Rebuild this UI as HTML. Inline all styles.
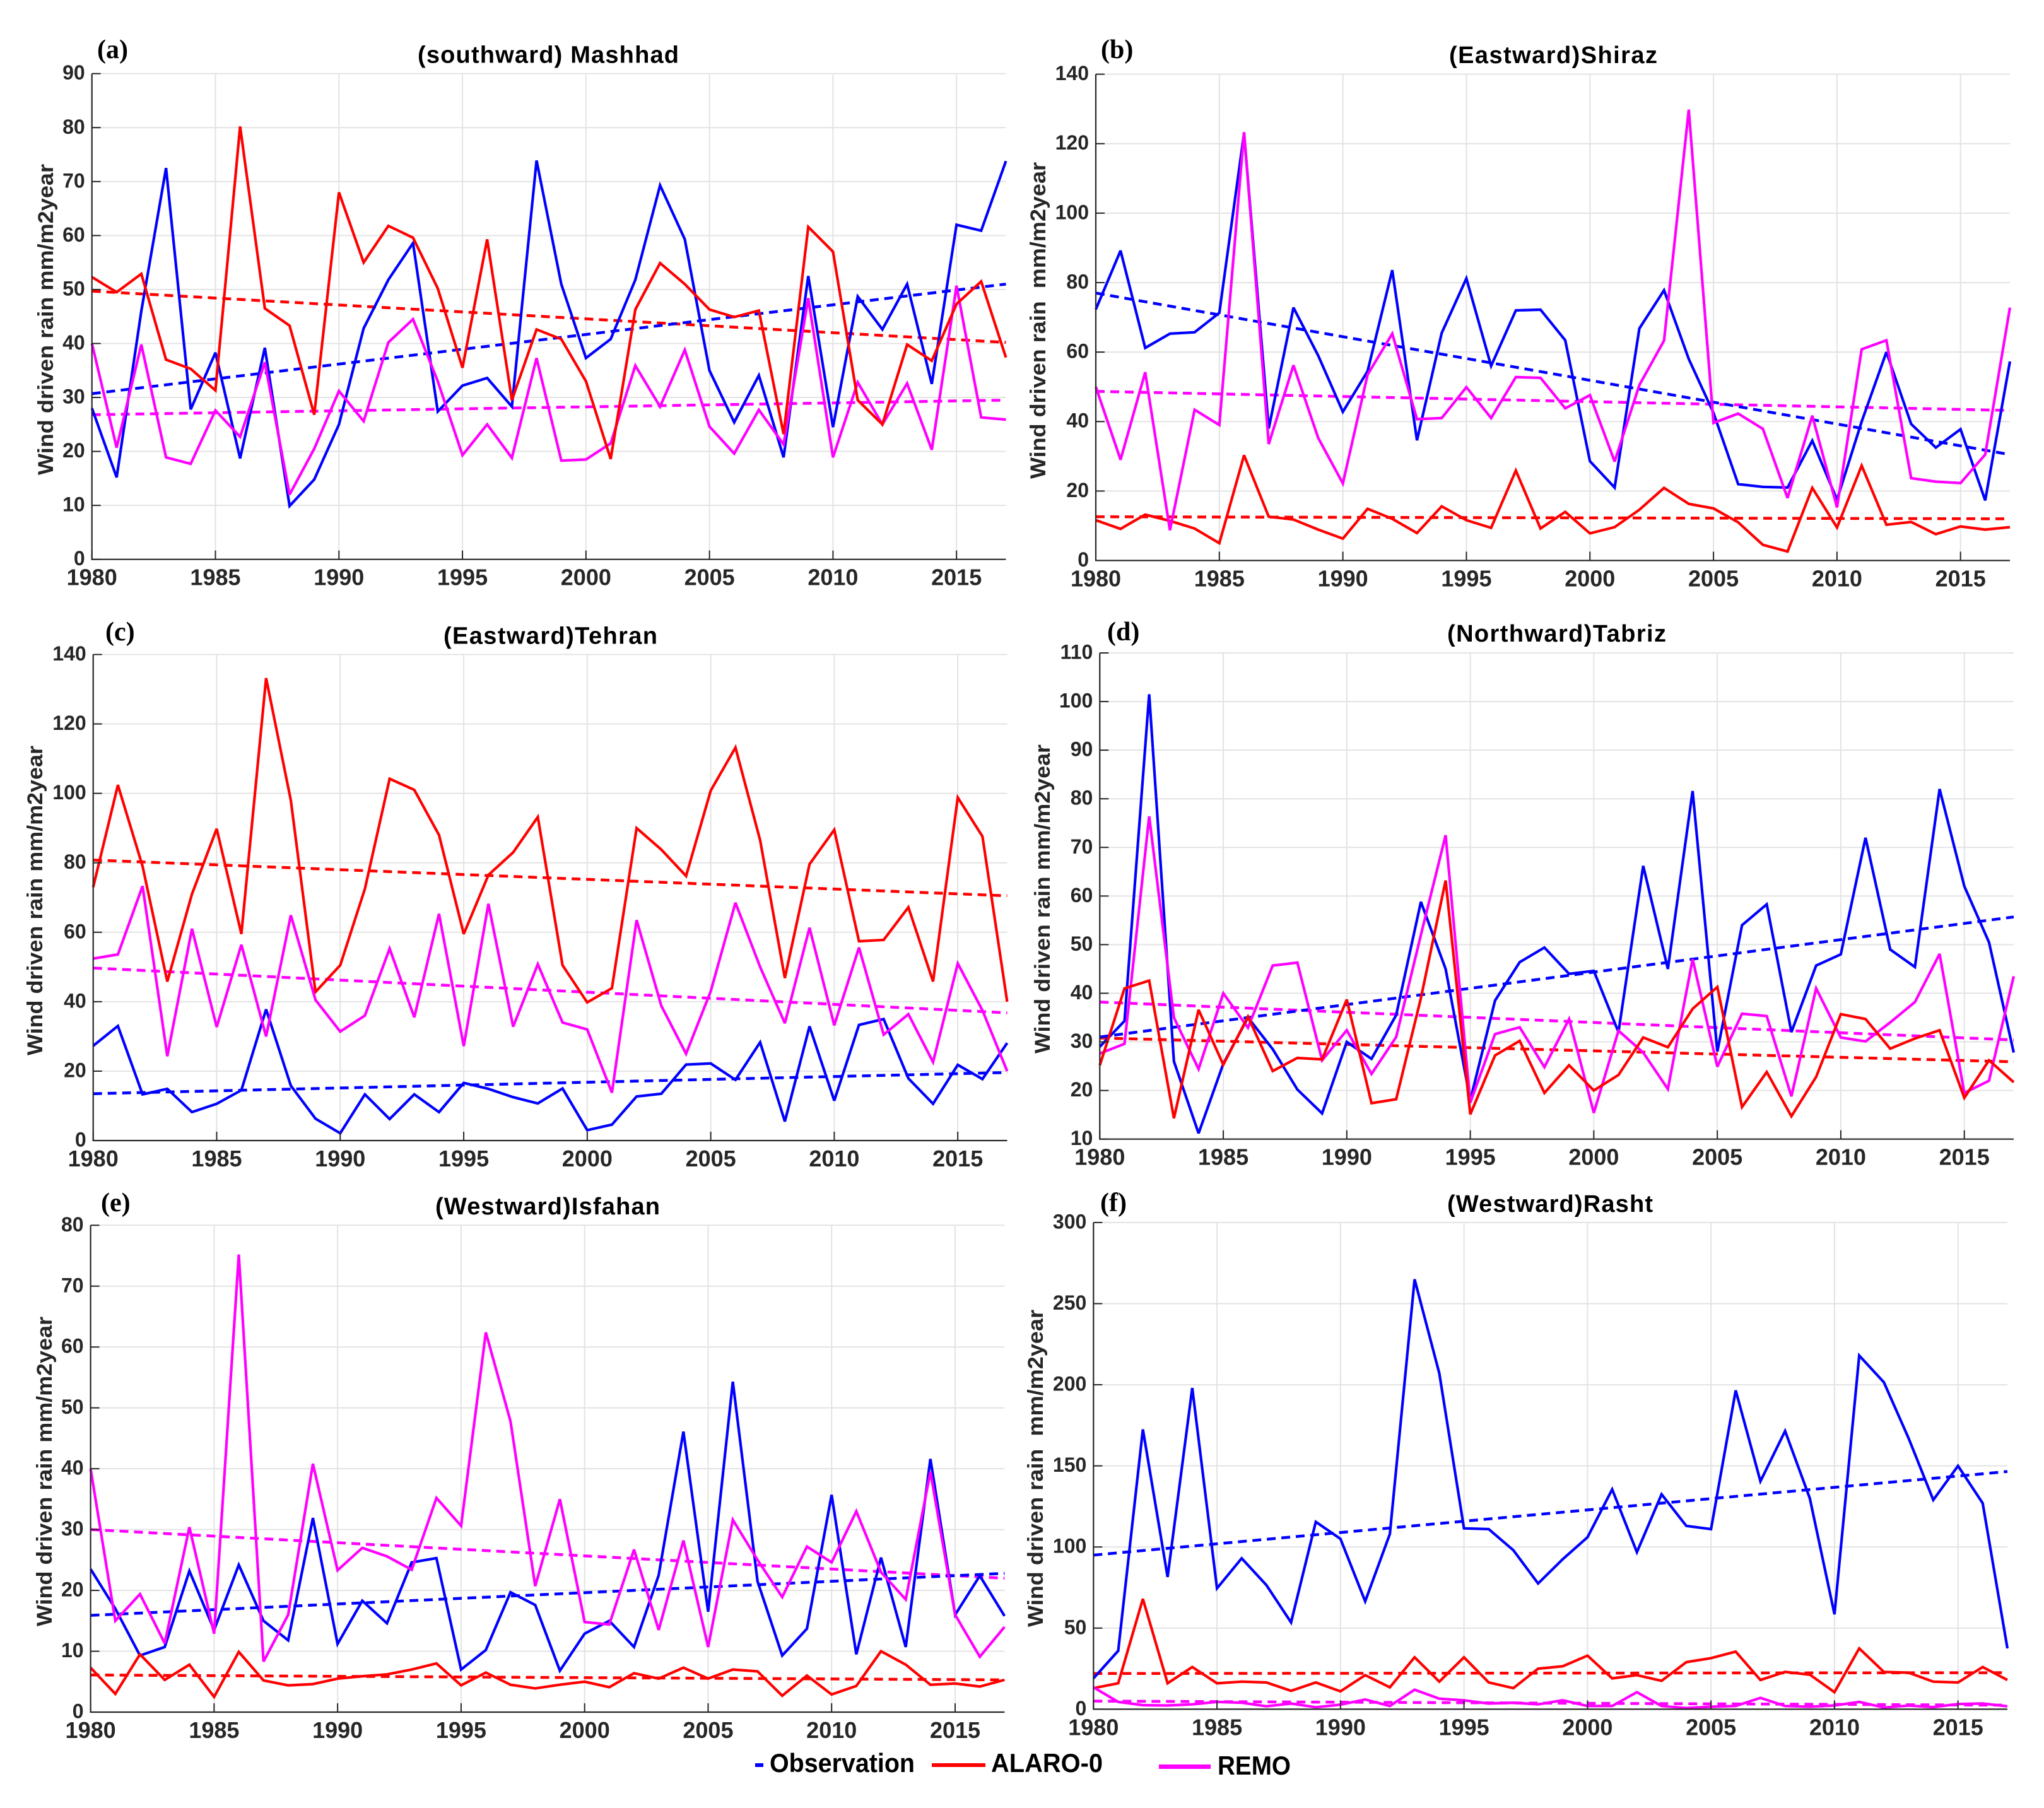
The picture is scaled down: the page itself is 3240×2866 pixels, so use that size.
<!DOCTYPE html>
<html lang="en">
<head>
<meta charset="utf-8">
<title>Wind driven rain charts</title>
<style>
html,body{margin:0;padding:0;background:#fff;}
svg{display:block;}
.tick{font-family:"Liberation Sans",sans-serif;font-weight:bold;fill:#262626;}
.ttl{font-family:"Liberation Sans",sans-serif;font-weight:bold;font-size:38px;fill:#000;}
.ylab{font-family:"Liberation Sans",sans-serif;font-weight:bold;font-size:34px;fill:#262626;}
.let{font-family:"Liberation Serif",serif;font-weight:bold;font-size:42px;fill:#000;}
.leg{font-family:"Liberation Sans",sans-serif;font-weight:bold;font-size:42px;fill:#000;}
</style>
</head>
<body>
<svg id="chart" xmlns="http://www.w3.org/2000/svg" width="3240" height="2866" viewBox="0 0 3240 2866">
<rect width="3240" height="2866" fill="#fff"/>
<g id="marks"></g>

<text class="let" x="154" y="92">(a)</text>
<text class="let" x="1745" y="92">(b)</text>
<text class="let" x="167" y="1015">(c)</text>
<text class="let" x="1755" y="1015">(d)</text>
<text class="let" x="160" y="1920">(e)</text>
<text class="let" x="1744" y="1920">(f)</text>

<text class="ttl" x="662" y="99.5" textLength="414" lengthAdjust="spacing">(southward) Mashhad</text>
<text class="ttl" x="2297" y="100" textLength="330" lengthAdjust="spacing">(Eastward)Shiraz</text>
<text class="ttl" x="703" y="1020.5" textLength="339" lengthAdjust="spacing">(Eastward)Tehran</text>
<text class="ttl" x="2294" y="1017" textLength="347" lengthAdjust="spacing">(Northward)Tabriz</text>
<text class="ttl" x="690" y="1925" textLength="356" lengthAdjust="spacing">(Westward)Isfahan</text>
<text class="ttl" x="2294" y="1921" textLength="326" lengthAdjust="spacing">(Westward)Rasht</text>

<text class="ylab" transform="translate(84,753) rotate(-90)" textLength="493" lengthAdjust="spacingAndGlyphs">Wind driven rain mm/m2year</text>
<text class="ylab" transform="translate(1657,759) rotate(-90)" textLength="502" lengthAdjust="spacingAndGlyphs" xml:space="preserve">Wind driven rain  mm/m2year</text>
<text class="ylab" transform="translate(67,1673) rotate(-90)" textLength="491" lengthAdjust="spacingAndGlyphs">Wind driven rain mm/m2year</text>
<text class="ylab" transform="translate(1664,1670) rotate(-90)" textLength="490" lengthAdjust="spacingAndGlyphs">Wind driven rain mm/m2year</text>
<text class="ylab" transform="translate(82,2578) rotate(-90)" textLength="491" lengthAdjust="spacingAndGlyphs">Wind driven rain mm/m2year</text>
<text class="ylab" transform="translate(1653,2579) rotate(-90)" textLength="503" lengthAdjust="spacingAndGlyphs" xml:space="preserve">Wind driven rain  mm/m2year</text>

<g>
  <rect x="1197" y="2795" width="13" height="6" fill="#0000ff"/>
  <text class="leg" x="1220" y="2809" textLength="230" lengthAdjust="spacingAndGlyphs">Observation</text>
  <rect x="1477" y="2795" width="85" height="6" fill="#ff0000"/>
  <text class="leg" x="1571" y="2809" textLength="177" lengthAdjust="spacingAndGlyphs">ALARO-0</text>
  <rect x="1837" y="2797" width="82" height="7" fill="#ff00ff"/>
  <text class="leg" x="1930" y="2813" textLength="116" lengthAdjust="spacingAndGlyphs">REMO</text>
</g>
</svg>

<script>
const years = [1980,1981,1982,1983,1984,1985,1986,1987,1988,1989,1990,1991,1992,1993,1994,1995,1996,1997,1998,1999,2000,2001,2002,2003,2004,2005,2006,2007,2008,2009,2010,2011,2012,2013,2014,2015,2016,2017];
const xTickLabels = [1980,1985,1990,1995,2000,2005,2010,2015];

const mashhadObs = [28,15.2,46,72.5,27.8,38.3,18.7,39.2,9.9,14.8,25,42.8,51.8,58.6,27.4,32.2,33.6,28.3,73.9,51,37.3,40.8,51.8,69.3,59.3,35,25.4,34.1,18.9,52.5,24.5,48.7,42.6,51,32.5,62,60.9,73.8];
const mashhadAlaro = [52.3,49.5,52.9,37,35.3,31.3,80.2,46.5,43.3,26.8,68,55,61.8,59.6,50.2,35.5,59.3,29.5,42.6,40.8,33,18.6,46.3,54.9,51,46.3,44.9,46.1,23.2,61.6,57,29.5,25,39.8,36.8,47.3,51.5,37.4];
const mashhadRemo = [40,20.7,39.8,18.9,17.7,27.6,22.7,36.5,12,20.5,31.2,25.6,40.2,44.5,33,19.3,25,18.8,37.3,18.3,18.5,21.5,35.9,28.3,38.8,24.6,19.6,27.7,21.3,48.4,18.9,32.8,25,32.6,20.3,50.7,26.3,25.9];
const mashhadObsTrend = [30.7,51];
const mashhadAlaroTrend = [49.7,40.2];
const mashhadRemoTrend = [26.8,29.5];
const mashhadYTicks = [0,10,20,30,40,50,60,70,80,90];

const shirazObs = [72.3,89.2,61.2,65.3,65.7,71.3,123,38,72.8,59,42.8,54.5,83.6,34.6,65.5,81.2,56,72,72.2,63.4,28.6,21,66.8,77.8,58,42.5,22,21.2,21,34.5,17.5,40,60,39.3,32.5,37.8,17.3,57.3];
const shirazAlaro = [11.6,9.1,13.2,11.4,9.2,5,30.3,12.6,11.8,8.9,6.3,14.9,12,7.9,15.6,11.6,9.4,25.9,9.2,14,7.8,9.6,14.6,20.9,16.3,15,11,4.5,2.6,20.9,9.5,27.3,10.3,11.1,7.6,9.8,8.9,9.6];
const shirazRemo = [50,29,54.2,8.7,43.4,39,123.3,33.5,56.2,35.3,22.2,53.5,65.3,40.7,41,49.9,41,52.8,52.6,43.8,47.6,28.5,50.5,63.3,129.8,39.6,42.3,37.9,18,41.7,15.3,60.8,63.4,23.7,22.7,22.3,30.5,72.8];
const shirazObsTrend = [77,30.5];
const shirazAlaroTrend = [12.6,12];
const shirazRemoTrend = [48.7,43.2];
const shirazYTicks = [0,20,40,60,80,100,120,140];

const tehranObs = [27.3,33,13.3,14.9,8.2,10.6,14.5,37.8,15.8,6.3,2.1,13.3,6.2,13.3,8.2,16.6,14.9,12.5,10.7,15,3,4.6,12.7,13.5,21.9,22.2,17.5,28.3,5.5,32.9,11.5,33.3,35,17.9,10.6,21.8,17.7,28.1];
const tehranAlaro = [73,102.4,79,45.8,71,89.8,59.5,133.2,98,42.8,50.5,72.5,104.2,101,88,59.5,76.5,83,93.2,50.5,39.8,43.9,90,83.8,76.2,100.8,113.2,86.5,46.8,79.6,89.5,57.4,57.8,67.2,45.8,98.8,87.6,40];
const tehranRemo = [52.4,53.6,73.3,24.3,61,32.7,56.4,30,64.9,40.5,31.4,36,55.3,35.5,65.3,27.2,68.2,32.8,50.8,34,32,13.8,63.5,38.8,25,43,68.5,50,33.8,61.3,33.2,55.6,30.5,36.4,22.6,51,37.5,20];
const tehranObsTrend = [13.5,19.6];
const tehranAlaroTrend = [80.8,70.5];
const tehranRemoTrend = [49.7,36.8];
const tehranYTicks = [0,20,40,60,80,100,120,140];

const tabrizObs = [29,34.3,101.5,26,11.2,25.5,35,28.5,20.2,15.3,30,26.5,35.5,58.8,45,18,38.5,46.4,49.4,44,44.6,32,66.2,45,81.6,28,54,58.3,32,45.7,48,72,49,45.4,82,62,50.5,27.8];
const tabrizAlaro = [25.2,41,42.6,14.3,36.6,25.3,35.2,24,26.7,26.4,38.7,17.4,18.2,39,63.2,15.1,27.2,30.2,19.5,25.2,20,23.2,30.9,28.9,36.8,41.3,16.6,23.8,14.7,22.8,35.7,34.7,28.6,30.7,32.4,18.5,26.2,21.7];
const tabrizRemo = [27.6,29.6,76.4,35,24.4,40,32.9,45.7,46.3,26.2,32.4,23.4,31,52,72.5,17.5,31.6,33,24.8,34.7,15.4,32.3,27.8,20.3,47,24.9,35.8,35.3,18.8,41,30.9,30.1,34,38.2,48.1,19.5,22,43.5];
const tabrizObsTrend = [31,55.7];
const tabrizAlaroTrend = [30.8,25.9];
const tabrizRemoTrend = [38.2,30.4];
const tabrizYTicks = [10,20,30,40,50,60,70,80,90,100,110];

const isfahanObs = [23.5,17,9.3,10.7,23.2,13.5,24.2,15,11.8,31.9,11.2,18.3,14.6,24.6,25.3,7,10.2,19.7,17.6,6.8,12.9,15,10.7,22.5,46.1,16.5,54.3,21.5,9.3,13.7,35.7,9.5,25.4,10.7,41.6,16,22.4,15.8];
const isfahanAlaro = [7.3,3,9.5,5.3,7.8,2.5,9.9,5.2,4.4,4.6,5.5,5.9,6.2,7,8,4.4,6.5,4.5,3.9,4.5,5,4.1,6.4,5.5,7.3,5.5,7,6.7,2.7,6,2.9,4.3,10,7.8,4.5,4.7,4.2,5.3];
const isfahanRemo = [40,15,19.4,11.3,30.4,12.9,75.2,8.3,16,40.8,23.3,27,25.6,23.4,35.2,30.6,62.4,47.8,20.7,35,14.8,14.4,26.7,13.5,28.2,10.7,31.6,25,18.9,27.2,24.6,33,23,18.5,39.5,16,9.1,14];
const isfahanObsTrend = [15.9,22.8];
const isfahanAlaroTrend = [6.1,5.3];
const isfahanRemoTrend = [30,22];
const isfahanYTicks = [0,10,20,30,40,50,60,70,80];

const rashtObs = [19,36,172.5,81.5,198,74.5,93,76.5,53.5,115.5,105,66.5,108,265,207,111.5,111,98,77.5,92.5,106,135.5,96.8,132.5,113,111,196.5,140.5,171.5,130,58.5,218,201.5,167,129,150,127,37.5];
const rashtAlaro = [13,16,68,16,26,16,17,16.5,11.3,16.5,11,21,13.5,32,17,32,16.5,13,25,26.5,33,19,21,17.5,29,31.5,35.5,18,23,21.3,10.5,37.5,23,22.5,17,16.5,26,18];
const rashtRemo = [13.5,4.5,2.5,2.3,3,4.5,4,1.8,3.5,1.2,2.8,6,2,12,6.5,5.5,3.5,4,3,5.5,2,2,10.5,2,0.7,1.5,2,7,2,1.5,2.3,4.5,1,2.2,1.3,3.2,3.5,1.8];
const rashtObsTrend = [95,146.5];
const rashtAlaroTrend = [22,22.5];
const rashtRemoTrend = [5,2.5];
const rashtYTicks = [0,50,100,150,200,250,300];

const SVGNS = 'http://www.w3.org/2000/svg';
const root = document.getElementById('marks');

function node(tag, parent, attrs) {
  const el = document.createElementNS(SVGNS, tag);
  for (const k in attrs) el.setAttribute(k, attrs[k]);
  parent.appendChild(el);
  return el;
}

function drawPanel(cfg) {
  const xMin = years[0];
  const xMax = years[years.length - 1];
  const yMin = cfg.yTicks[0];
  const yMax = cfg.yTicks[cfg.yTicks.length - 1];
  const xScale = function (v) { return cfg.left + (v - xMin) / (xMax - xMin) * (cfg.right - cfg.left); };
  const yScale = function (v) { return cfg.bottom - (v - yMin) / (yMax - yMin) * (cfg.bottom - cfg.top); };

  const g = node('g', root, {});
  
  

  cfg.yTicks.forEach(function (t) {
    if (t === yMin) return;
    const grid = node('line', g, {x1: cfg.left, x2: cfg.right, y1: yScale(t), y2: yScale(t), stroke: '#e3e3e3', 'stroke-width': 2});
    
    
  });
  xTickLabels.forEach(function (t) {
    if (t === xMin) return;
    const grid = node('line', g, {x1: xScale(t), x2: xScale(t), y1: cfg.top, y2: cfg.bottom, stroke: '#e3e3e3', 'stroke-width': 2});
    
    
  });

  const trends = [
    {key: 'alaro', color: '#ff0000', vals: cfg.alaroTrend},
    {key: 'remo', color: '#ff00ff', vals: cfg.remoTrend},
    {key: 'observation', color: '#0000ff', vals: cfg.obsTrend}
  ];
  trends.forEach(function (s) {
    const tr = node('line', g, {x1: xScale(xMin), x2: xScale(xMax), y1: yScale(s.vals[0]), y2: yScale(s.vals[1]), stroke: s.color, 'stroke-width': 4.5, 'stroke-dasharray': '14 9'});
    
    
  });

  const series = [
    {key: 'observation', color: '#0000ff', vals: cfg.obs},
    {key: 'alaro', color: '#ff0000', vals: cfg.alaro},
    {key: 'remo', color: '#ff00ff', vals: cfg.remo}
  ];
  cfg.order.forEach(function (i) {
    const s = series[i];
    const pts = s.vals.map(function (v, j) { return xScale(years[j]).toFixed(1) + ',' + yScale(v).toFixed(1); }).join(' ');
    const pl = node('polyline', g, {points: pts, fill: 'none', stroke: s.color, 'stroke-width': 4.2, 'stroke-linejoin': 'miter', 'stroke-miterlimit': 3});
    
    
  });

  const yAxis = node('line', g, {x1: cfg.left, x2: cfg.left, y1: cfg.top, y2: cfg.bottom + 1, stroke: '#262626', 'stroke-width': 2.2});
  
  
  const xAxis = node('line', g, {x1: cfg.left, x2: cfg.right, y1: cfg.bottom, y2: cfg.bottom, stroke: '#262626', 'stroke-width': 2.2});
  
  

  cfg.yTicks.forEach(function (t) {
    const mark = node('line', g, {x1: cfg.left, x2: cfg.left + 14, y1: yScale(t), y2: yScale(t), stroke: '#262626', 'stroke-width': 2});
    
    
    const lab = node('text', g, {x: cfg.left - 11, y: yScale(t) + 9.5, 'text-anchor': 'end', 'font-size': 32, class: 'tick'});
    
    
    lab.textContent = t;
  });
  xTickLabels.forEach(function (t) {
    const mark = node('line', g, {x1: xScale(t), x2: xScale(t), y1: cfg.bottom, y2: cfg.bottom - 14, stroke: '#262626', 'stroke-width': 2});
    
    
    const lab = node('text', g, {x: xScale(t), y: cfg.bottom + 41, 'text-anchor': 'middle', 'font-size': 36, class: 'tick'});
    
    
    lab.textContent = t;
  });
}

drawPanel({name: 'mashhad', left: 145.7, right: 1594.5, top: 116.7, bottom: 886.7, yTicks: mashhadYTicks, obs: mashhadObs, alaro: mashhadAlaro, remo: mashhadRemo, obsTrend: mashhadObsTrend, alaroTrend: mashhadAlaroTrend, remoTrend: mashhadRemoTrend, order: [0,2,1]});
drawPanel({name: 'shiraz', left: 1737, right: 3186, top: 117.6, bottom: 888.5, yTicks: shirazYTicks, obs: shirazObs, alaro: shirazAlaro, remo: shirazRemo, obsTrend: shirazObsTrend, alaroTrend: shirazAlaroTrend, remoTrend: shirazRemoTrend, order: [0,1,2]});
drawPanel({name: 'tehran', left: 147.7, right: 1596.5, top: 1037.5, bottom: 1808, yTicks: tehranYTicks, obs: tehranObs, alaro: tehranAlaro, remo: tehranRemo, obsTrend: tehranObsTrend, alaroTrend: tehranAlaroTrend, remoTrend: tehranRemoTrend, order: [0,1,2]});
drawPanel({name: 'tabriz', left: 1743.3, right: 3192, top: 1035, bottom: 1805.7, yTicks: tabrizYTicks, obs: tabrizObs, alaro: tabrizAlaro, remo: tabrizRemo, obsTrend: tabrizObsTrend, alaroTrend: tabrizAlaroTrend, remoTrend: tabrizRemoTrend, order: [0,2,1]});
drawPanel({name: 'isfahan', left: 143.6, right: 1592.3, top: 1942.3, bottom: 2714, yTicks: isfahanYTicks, obs: isfahanObs, alaro: isfahanAlaro, remo: isfahanRemo, obsTrend: isfahanObsTrend, alaroTrend: isfahanAlaroTrend, remoTrend: isfahanRemoTrend, order: [0,1,2]});
drawPanel({name: 'rasht', left: 1733.3, right: 3182, top: 1937.9, bottom: 2709.4, yTicks: rashtYTicks, obs: rashtObs, alaro: rashtAlaro, remo: rashtRemo, obsTrend: rashtObsTrend, alaroTrend: rashtAlaroTrend, remoTrend: rashtRemoTrend, order: [0,1,2]});
</script>
</body>
</html>
